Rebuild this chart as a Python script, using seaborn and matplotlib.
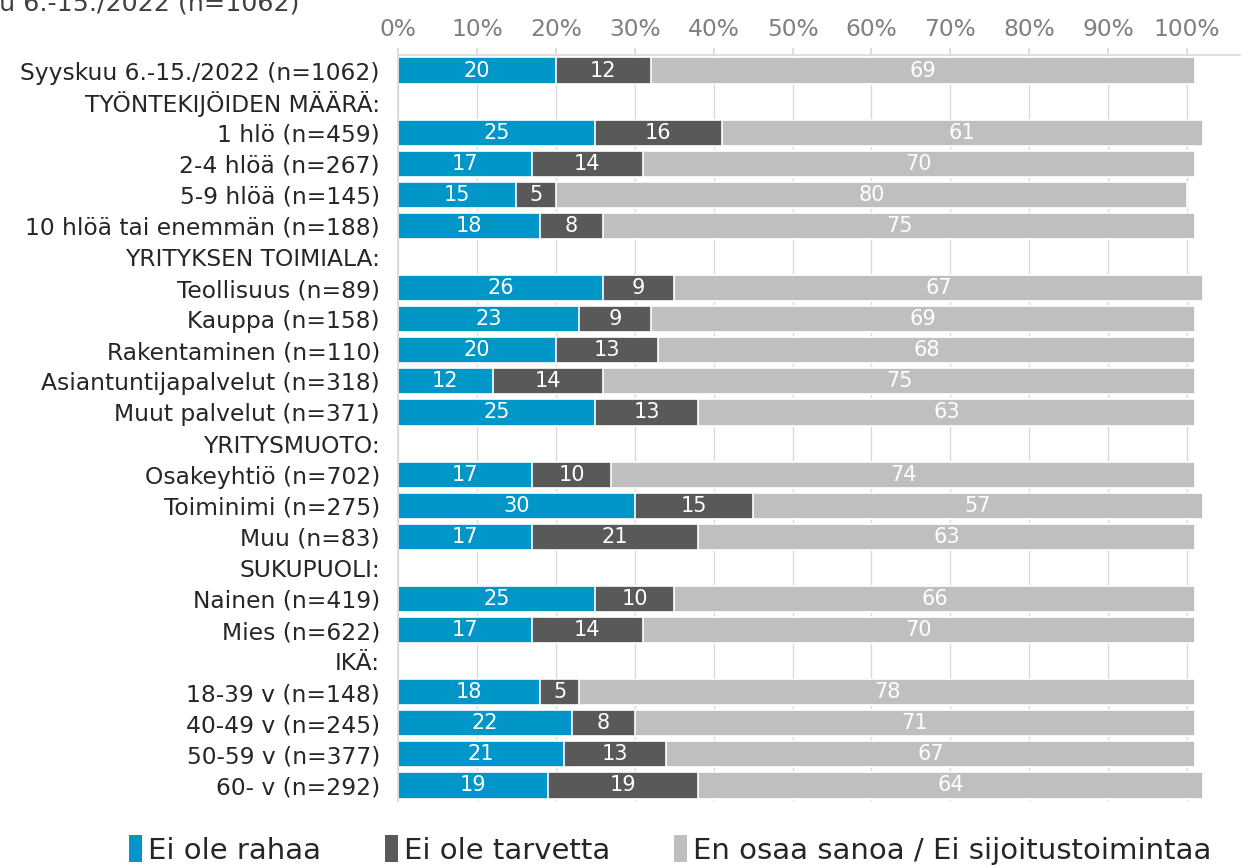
import pandas as pd
import numpy as np
import matplotlib
matplotlib.use("Agg")
import matplotlib.pyplot as plt
import seaborn as sns
from matplotlib.patches import Patch

# rivit ylhäältä alas (otsikkorivit ilman arvoja)
rivit = [
    "Syyskuu 6.-15./2022 (n=1062)",
    "TYÖNTEKIJÖIDEN MÄÄRÄ:",
    "1 hlö (n=459)",
    "2-4 hlöä (n=267)",
    "5-9 hlöä (n=145)",
    "10 hlöä tai enemmän (n=188)",
    "YRITYKSEN TOIMIALA:",
    "Teollisuus (n=89)",
    "Kauppa (n=158)",
    "Rakentaminen (n=110)",
    "Asiantuntijapalvelut (n=318)",
    "Muut palvelut (n=371)",
    "YRITYSMUOTO:",
    "Osakeyhtiö (n=702)",
    "Toiminimi (n=275)",
    "Muu (n=83)",
    "SUKUPUOLI:",
    "Nainen (n=419)",
    "Mies (n=622)",
    "IKÄ:",
    "18-39 v (n=148)",
    "40-49 v (n=245)",
    "50-59 v (n=377)",
    "60- v (n=292)",
]
ei_rahaa = [20, None, 25, 17, 15, 18, None, 26, 23, 20, 12, 25, None, 17, 30, 17, None, 25, 17, None, 18, 22, 21, 19]
ei_tarvetta = [12, None, 16, 14, 5, 8, None, 9, 9, 13, 14, 13, None, 10, 15, 21, None, 10, 14, None, 5, 8, 13, 19]
en_osaa = [69, None, 61, 70, 80, 75, None, 67, 69, 68, 75, 63, None, 74, 57, 63, None, 66, 70, None, 78, 71, 67, 64]

sarjat = ["Ei ole rahaa", "Ei ole tarvetta", "En osaa sanoa / Ei sijoitustoimintaa"]
varit = ["#0096C8", "#595959", "#BFBFBF"]

df = pd.DataFrame({"rivi": rivit, "a": ei_rahaa, "b": ei_tarvetta, "c": en_osaa}).astype({"a": float, "b": float, "c": float})
df["s1"] = df["a"]
df["s2"] = df["a"] + df["b"]
df["s3"] = df["a"] + df["b"] + df["c"]

sns.set_theme(style="white")
plt.rcParams["font.family"] = ["DejaVu Sans"]

fig = plt.figure(figsize=(12.48, 8.67), dpi=100)
ax = fig.add_axes([398 / 1248, 1 - 801 / 867, (1240 - 398) / 1248, (801 - 55) / 867])

ax.grid(axis="x", color="#D9D9D9", linewidth=1)
ax.set_axisbelow(True)

# pinotut palkit: ensin kokonaissumma, sitten osasummat päälle
for kolumni, vari in zip(["s3", "s2", "s1"], varit[::-1]):
    sns.barplot(data=df, x=kolumni, y="rivi", order=rivit, color=vari, orient="h",
                width=0.84, edgecolor="white", linewidth=1.2, ax=ax, saturation=1)

# arvot palkkien keskelle
for i, r in df.iterrows():
    if np.isnan(r["a"]):
        continue
    alku = 0
    for arvo in [r["a"], r["b"], r["c"]]:
        ax.text(alku + arvo / 2, i, f"{arvo:.0f}", ha="center", va="center",
                color="white", fontsize=15)
        alku += arvo

ax.set_xlim(0, 106.7)
ax.set_ylim(len(rivit) - 0.5, -0.5)
ax.set_xticks(range(0, 101, 10))
ax.set_xticklabels([f"{t}%" for t in range(0, 101, 10)])
ax.xaxis.tick_top()
ax.tick_params(axis="x", top=True, length=5, color="#D9D9D9", labelsize=16.8,
               labelcolor="#7F7F7F", pad=5)
ax.tick_params(axis="y", left=False, labelsize=16.8, labelcolor="#262626", pad=7)
ax.set_xlabel("")
ax.set_ylabel("")
for puoli in ["right", "bottom"]:
    ax.spines[puoli].set_visible(False)
ax.spines["top"].set_color("#D9D9D9")
ax.spines["left"].set_color("#D9D9D9")

# leikkautunut otsikko ylälaidassa (alkuperäisessäkin vain osittain näkyvissä)
fig.text(300 / 1248, 1 - 11 / 867, "Syyskuu 6.-15./2022 (n=1062)", ha="right", va="baseline",
         fontsize=18.3, color="#404040")

kahvat = [Patch(facecolor=v, edgecolor="none") for v in varit]
fig.legend(kahvat, sarjat, loc="center", bbox_to_anchor=(0.537, 1 - 850 / 867), ncol=3,
           frameon=False, handlelength=0.45, handleheight=1.0, handletextpad=0.2,
           columnspacing=2.2, prop={"size": 21}, labelcolor="#262626")

plt.savefig("out.png", dpi=100)
